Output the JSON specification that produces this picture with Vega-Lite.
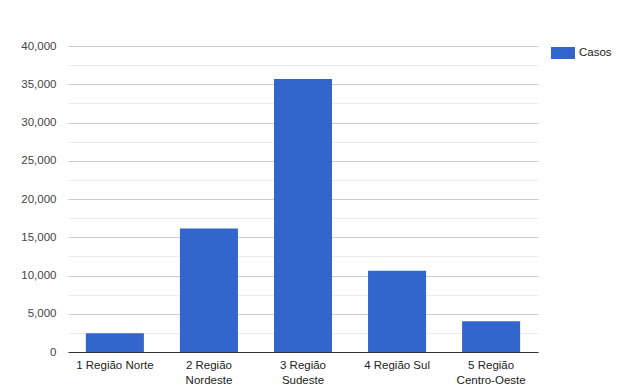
{
  "$schema": "https://vega.github.io/schema/vega-lite/v6.json",
  "autosize": "none",
  "width": 470,
  "height": 306,
  "padding": {"left": 68, "top": 46, "right": 87, "bottom": 40},
  "background": "#ffffff",
  "config": {
    "font": "Liberation Sans",
    "view": {"stroke": null}
  },
  "data": {
    "values": [
      {"regiao": "1 Região Norte", "casos": 2450},
      {"regiao": "2 Região Nordeste", "casos": 16150},
      {"regiao": "3 Região Sudeste", "casos": 35700},
      {"regiao": "4 Região Sul", "casos": 10620},
      {"regiao": "5 Região Centro-Oeste", "casos": 4010}
    ]
  },
  "mark": {"type": "bar", "color": "#3366cc"},
  "encoding": {
    "x": {
      "field": "regiao",
      "type": "nominal",
      "sort": null,
      "scale": {"paddingInner": 0.383, "paddingOuter": 0.19},
      "axis": {
        "title": null,
        "labelAngle": 0,
        "ticks": false,
        "domainColor": "#333333",
        "labelColor": "#222222",
        "labelFontSize": 11.5,
        "labelPadding": 7,
        "labelLineHeight": 15,
        "labelExpr": "length(datum.label) > 14 ? [slice(datum.label, 0, 8), slice(datum.label, 9)] : datum.label"
      }
    },
    "y": {
      "field": "casos",
      "type": "quantitative",
      "scale": {"domain": [0, 40000], "nice": false},
      "axis": {
        "title": null,
        "domain": false,
        "ticks": false,
        "values": [0, 2500, 5000, 7500, 10000, 12500, 15000, 17500, 20000, 22500, 25000, 27500, 30000, 32500, 35000, 37500, 40000],
        "labelExpr": "datum.value % 5000 === 0 ? format(datum.value, ',') : ''",
        "gridColor": {"condition": {"test": "datum.value % 5000 === 0", "value": "#cccccc"}, "value": "#ebebeb"},
        "labelColor": "#444444",
        "labelFontSize": 11.5,
        "labelPadding": 12
      }
    },
    "color": {
      "datum": "Casos",
      "type": "nominal",
      "scale": {"range": ["#3366cc"]},
      "legend": {
        "title": null,
        "orient": "none",
        "legendX": 483,
        "legendY": -5,
        "symbolType": "M-1,-0.5H1V0.5H-1Z",
        "symbolSize": 576,
        "symbolStrokeWidth": 0,
        "symbolOpacity": 1,
        "labelFontSize": 11.5,
        "labelColor": "#222222",
        "labelOffset": 4
      }
    }
  }
}
